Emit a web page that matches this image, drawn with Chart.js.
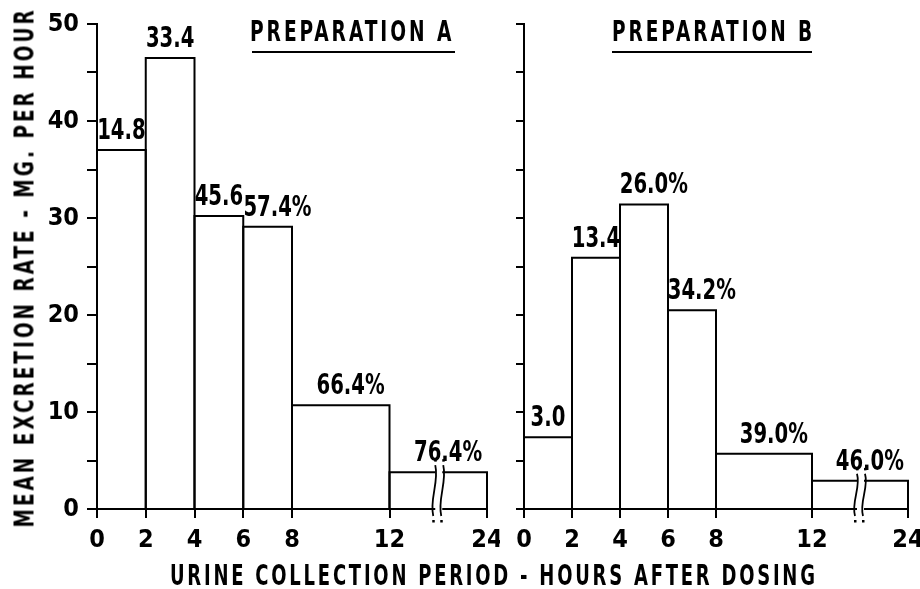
<!DOCTYPE html>
<html>
<head>
<meta charset="utf-8">
<script src="https://cdn.jsdelivr.net/npm/chart.js@4.4.0/dist/chart.umd.min.js"></script>
<style>
body { margin: 0; background: #fff; width: 920px; height: 589px; position: relative; overflow: hidden;
  font-family: 'DejaVu Sans Condensed', 'DejaVu Sans', sans-serif; font-weight: bold; color: #000; }
.box { position: absolute; top: 0; height: 589px; }
#boxA { left: 0; width: 500px; }
#boxB { left: 500px; width: 420px; }
.t { position: absolute; white-space: nowrap; line-height: 1; display: inline-block; transform-origin: 0 0; }
.rule { position: absolute; height: 2px; background: #000; }
</style>
</head>
<body>
<div class="box" id="boxA"><canvas id="chartA"></canvas></div>
<div class="box" id="boxB"><canvas id="chartB"></canvas></div>

<span class="t" id="titleA" style="font-size:28px">PREPARATION A</span>
<span class="t" id="titleB" style="font-size:28px">PREPARATION B</span>
<div class="rule" style="left:252px;top:51px;width:203px"></div>
<div class="rule" style="left:612px;top:51px;width:200px"></div>
<span class="t" id="xTitle" style="font-size:29px">URINE COLLECTION PERIOD - HOURS AFTER DOSING</span>
<span class="t" id="yTitle" style="font-size:27px">MEAN EXCRETION RATE - MG. PER HOUR</span>

<script>
// collection period edges (hours) and axis labels
var hours = [0, 2, 4, 6, 8, 12, 24];
var tickLabels = ['0', '2', '4', '6', '8', '12', '24'];

// mean excretion rate, mg per hour, per period
var rateA = [37.0, 46.5, 30.2, 29.1, 10.7, 3.8];
var rateB = [7.4, 25.9, 31.4, 20.5, 5.7, 2.9];

// cumulative amount excreted, printed over each bar
var cumA = ['14.8', '33.4', '45.6', '57.4%', '66.4%', '76.4%'];
var cumB = ['3.0', '13.4', '26.0%', '34.2%', '39.0%', '46.0%'];

var yMax = 50;
var breakHour = 18;

var FONT = "'DejaVu Sans Condensed', 'DejaVu Sans', sans-serif";

// the 12-24 h period is drawn compressed (broken axis)
function axisPos(h) {
	return h <= 12 ? h : 12 + (h - 12) / 3;
}

function barDatasets(rates) {
	var sets = [];
	for (var i = 0; i < rates.length; i++) {
		var a = axisPos(hours[i]), b = axisPos(hours[i + 1]);
		sets.push({
			data: [{x: a, y: 0}, {x: a, y: rates[i]}, {x: b, y: rates[i]}, {x: b, y: 0}],
			borderColor: '#000',
			borderWidth: 2,
			pointRadius: 0,
			fill: false,
			tension: 0,
			clip: false
		});
	}
	return sets;
}

var barLabels = {
	id: 'barLabels',
	afterDatasetsDraw: function(chart, args, opts) {
		var ctx = chart.ctx, xs = chart.scales.x, ys = chart.scales.y;
		var sx = 0.78;
		ctx.save();
		ctx.font = 'bold 28px ' + FONT;
		ctx.fillStyle = '#000';
		ctx.textBaseline = 'alphabetic';
		ctx.textAlign = 'left';
		opts.values.forEach(function(v, i) {
			var cx = (xs.getPixelForValue(axisPos(hours[i])) + xs.getPixelForValue(axisPos(hours[i + 1]))) / 2;
			var top = ys.getPixelForValue(v);
			var txt = opts.labels[i];
			var w = ctx.measureText(txt.replace('%', '')).width * sx;
			ctx.save();
			ctx.translate(cx - w / 2, top - 11);
			ctx.scale(sx, 1);
			ctx.fillText(txt, 0, 0);
			ctx.restore();
		});

		// break marks on the last bar
		var last = opts.values.length - 1;
		var bx = xs.getPixelForValue(axisPos(breakHour));
		var y1 = ys.getPixelForValue(opts.values[last]) - 7;
		var y2 = ys.getPixelForValue(0) + 7;
		ctx.fillStyle = '#fff';
		ctx.fillRect(bx - 3, y1 + 2, 7, y2 - y1 - 4);
		ctx.strokeStyle = '#000';
		ctx.lineWidth = 1.8;
		[-4, 4].forEach(function(dx) {
			var x = bx + dx;
			ctx.beginPath();
			ctx.moveTo(x + 1, y1);
			ctx.bezierCurveTo(x + 5, y1 + (y2 - y1) / 3, x - 5, y1 + 2 * (y2 - y1) / 3, x - 1, y2);
			ctx.stroke();
			ctx.fillStyle = '#000';
			ctx.fillRect(x, y1 - 6, 2.5, 2.5);
			ctx.fillRect(x - 2, y2 + 4, 2.5, 2.5);
		});
		ctx.restore();
	}
};

function makeChart(id, rates, labels, showY, yWidth, padRight) {
	var pos = hours.map(axisPos);
	return new Chart(document.getElementById(id), {
		type: 'line',
		data: { datasets: barDatasets(rates) },
		plugins: [barLabels],
		options: {
			responsive: true,
			maintainAspectRatio: false,
			animation: false,
			events: [],
			layout: { padding: { top: 24, right: padRight, left: 0, bottom: 0 } },
			plugins: {
				legend: { display: false },
				tooltip: { enabled: false },
				barLabels: { values: rates, labels: labels }
			},
			scales: {
				x: {
					type: 'linear',
					min: 0,
					max: axisPos(24),
					afterBuildTicks: function(s) {
						s.ticks = pos.map(function(p) { return {value: p}; });
					},
					afterFit: function(s) {
						s.height = 80;
						s.paddingLeft = 0;
						s.paddingRight = 0;
					},
					ticks: {
						autoSkip: false,
						maxRotation: 0,
						padding: 7,
						color: '#000',
						font: { family: FONT, size: 25, weight: 'bold' },
						callback: function(v) { return tickLabels[pos.indexOf(v)]; }
					},
					grid: { drawOnChartArea: false, tickLength: 9, color: '#000', lineWidth: 2 },
					border: { display: true, color: '#000', width: 2 }
				},
				y: {
					min: 0,
					max: yMax,
					afterFit: function(s) { s.width = yWidth; },
					ticks: {
						stepSize: 5,
						padding: 8,
						color: '#000',
						font: { family: FONT, size: 25, weight: 'bold' },
						callback: function(v) { return showY && v % 10 === 0 ? v : ''; }
					},
					grid: { drawOnChartArea: false, tickLength: showY ? 10 : 8, color: '#000', lineWidth: 2 },
					border: { display: true, color: '#000', width: 2 }
				}
			}
		}
	});
}

makeChart('chartA', rateA, cumA, true, 97, 13);
makeChart('chartB', rateB, cumB, false, 24, 12);

// squeeze the lettered titles to the width they take in the figure
function place(id, width, left, top, spacing, rotate) {
	var el = document.getElementById(id);
	el.style.letterSpacing = spacing + 'px';
	var w = el.offsetWidth - spacing;
	var h = el.offsetHeight;
	var k = width / w;
	if (rotate) {
		// left/top given as the centre point
		el.style.left = left + 'px';
		el.style.top = top + 'px';
		el.style.transform = 'rotate(-90deg) scale(' + k + ',1) translate(' + (-w / 2) + 'px,' + (-h / 2) + 'px)';
	} else {
		el.style.left = left + 'px';
		el.style.top = top + 'px';
		el.style.transform = 'scale(' + k + ',1)';
	}
}
place('titleA', 201, 250, 17.5, 4);
place('titleB', 200, 612, 17.5, 4);
place('xTitle', 645, 170, 560.5, 4);
place('yTitle', 517, 23.5, 268.5, 4, true);
</script>
</body>
</html>
